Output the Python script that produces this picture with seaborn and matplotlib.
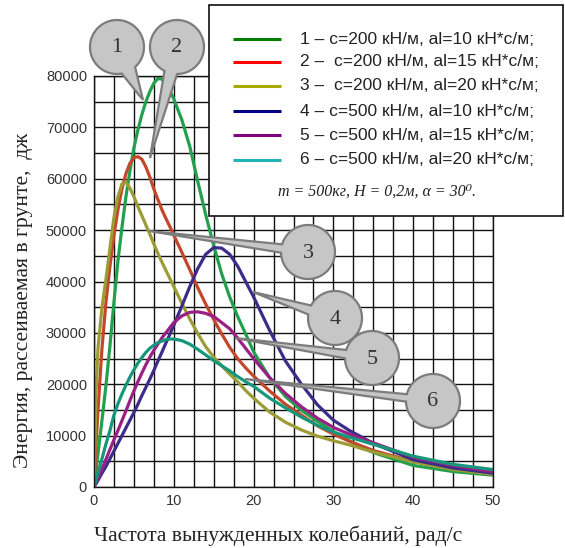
import numpy as np
import pandas as pd
import matplotlib
matplotlib.use("Agg")
import matplotlib.pyplot as plt
from matplotlib.patches import Polygon, Rectangle
import seaborn as sns

# ---------------- data ----------------
freq = [0, 0.25, 0.5, 1, 1.5, 2, 2.5, 3, 3.5, 4, 4.5, 5, 5.5, 6, 6.5, 7, 7.5, 8,
        8.5, 9, 9.5, 10, 11, 12, 13, 14, 15, 16, 17, 18, 19, 20, 22, 24, 26, 28,
        30, 32, 35, 40, 45, 50]

curve1 = [0, 3000, 6500, 13000, 19800, 27500, 36000, 44000, 50500, 56500, 61500,
          66000, 69500, 72500, 75000, 77000, 78600, 79500, 79400, 78500, 77200,
          75500, 71500, 66300, 59500, 53000, 47000, 41500, 37000, 33200, 29800,
          26300, 21300, 17600, 14900, 12800, 10800, 9000, 6700, 4200, 3000, 2300]
curve2 = [0, 8000, 15000, 27000, 36000, 43000, 49000, 54000, 58000, 61000, 63000,
          64100, 64300, 63800, 62300, 60300, 58000, 56000, 54000, 52300, 50700,
          49000, 45700, 42300, 38800, 35600, 32600, 29800, 27200, 25000, 23200,
          21600, 18700, 16100, 14000, 11900, 10300, 8900, 7100, 5000, 3500, 2500]
curve3 = [0, 18000, 27000, 35000, 40500, 46500, 52500, 56500, 59000, 59300, 58200,
          56500, 54600, 52800, 51000, 49200, 47300, 45500, 43800, 42200, 40600,
          39000, 35800, 32700, 29900, 27300, 25300, 23600, 22000, 20500, 18800,
          17300, 14600, 12600, 11100, 9900, 9000, 8200, 6800, 4900, 3400, 2500]
curve4 = [0, 650, 1300, 2700, 4000, 5500, 7000, 8500, 10000, 11500, 13000,
          14500, 16100, 17800, 19400, 21000, 22700, 24500, 26200, 28000, 29700,
          31500, 35200, 39000, 42500, 45300, 46600, 46500, 45300, 43000, 40000,
          37000, 30500, 24500, 20000, 16000, 13000, 11000, 8500, 5300, 3700, 2700]
curve5 = [0, 850, 1700, 3500, 5400, 7300, 9200, 11000, 12900, 14800, 16800,
          18700, 20500, 22200, 23800, 25300, 26600, 27800, 29000, 30000, 31000,
          32000, 33300, 34000, 34100, 33800, 33200, 32000, 30800, 29000, 27000,
          25000, 21300, 18200, 15600, 13400, 11600, 10300, 8600, 5800, 4200, 3000]
curve6 = [0, 1400, 2800, 5500, 8400, 11000, 14000, 16200, 18100, 19800, 21400,
          22800, 24100, 25200, 26200, 27000, 27600, 28100, 28400, 28700, 28800,
          28800, 28500, 27800, 26800, 25700, 24600, 23600, 22600, 21500, 20500,
          19600, 17300, 15400, 13600, 12000, 10700, 9700, 8300, 6000, 4400, 3400]

labels = ["1 – c=200 кН/м, al=10 кН*с/м;",
          "2 –  c=200 кН/м, al=15 кН*с/м;",
          "3 –  c=200 кН/м, al=20 кН*с/м;",
          "4 – c=500 кН/м, al=10 кН*с/м;",
          "5 – c=500 кН/м, al=15 кН*с/м;",
          "6 – c=500 кН/м, al=20 кН*с/м;"]
callout_names = ["1", "2", "3", "4", "5", "6"]
note = "m = 500кг, H = 0,2м, α = 30⁰."

x_ticks = [0, 10, 20, 30, 40, 50]
y_ticks = [0, 10000, 20000, 30000, 40000, 50000, 60000, 70000, 80000]

line_colors = ["#23a04e", "#c2472b", "#9c9c36", "#3d2b8a", "#9a2084", "#16977c"]
legend_colors = ["#008000", "#ff0000", "#a8a800", "#000080", "#800080", "#22b4b4"]

series = [curve1, curve2, curve3, curve4, curve5, curve6]
df = pd.concat([pd.DataFrame({"freq": freq, "energy": s, "curve": lab})
                for s, lab in zip(series, labels)], ignore_index=True)

# ---------------- figure ----------------
sns.set_style("white")
plt.rcParams["font.family"] = ["Liberation Sans", "DejaVu Sans"]

W, H = 565, 548
fig = plt.figure(figsize=(W / 100, H / 100), dpi=100)
ax = fig.add_axes([94 / W, 61 / H, 399 / W, 411 / H])

sns.lineplot(data=df, x="freq", y="energy", hue="curve", hue_order=labels,
             palette=line_colors, estimator=None, sort=False, lw=2.3,
             legend=False, ax=ax)

ax.set_xlim(0, 50)
ax.set_ylim(0, 80000)
ax.set_xticks(x_ticks)
ax.set_xticks(np.arange(0, 50.1, 2.5), minor=True)
ax.set_yticks(y_ticks)
ax.set_yticks(np.arange(0, 80001, 5000), minor=True)
ax.set_xticklabels([str(v) for v in x_ticks])
ax.set_yticklabels([str(v) for v in y_ticks])
ax.set_axisbelow(True)
ax.grid(which="both", color="#111111", lw=1.0)
ax.tick_params(axis="both", which="major", length=3.5, width=1, color="#111111",
               labelsize=10.5, labelcolor="#333333", pad=1.5)
ax.tick_params(axis="y", which="minor", length=3.5, width=1, color="#111111")
ax.tick_params(axis="x", which="minor", length=0)
for sp in ax.spines.values():
    sp.set_color("#111111")
    sp.set_linewidth(1.0)

serif = ["Liberation Serif", "DejaVu Serif"]
ax.set_xlabel("Частота вынужденных колебаний, рад/с", family=serif,
              fontsize=15.6, color="#222222")
ax.xaxis.set_label_coords((278 - 94) / 399, (487 - 526) / 411)
ax.set_ylabel("Энергия, рассеиваемая в грунте,  дж", family=serif,
              fontsize=15.6, color="#222222")
ax.yaxis.set_label_coords((33 - 94) / 399, (487 - 300) / 411)

# ---------------- overlay (pixel coordinates) ----------------
ov = fig.add_axes([0, 0, 1, 1], zorder=5)
ov.set_xlim(0, W)
ov.set_ylim(H, 0)
ov.axis("off")
ov.patch.set_alpha(0)

# legend box
ov.add_patch(Rectangle((209, 5), 354, 211, fc="white", ec="#111111", lw=1.2))
rows_y = [39, 62, 86, 111, 135, 160]
for lab, col, yy in zip(labels, legend_colors, rows_y):
    ov.plot([233, 281], [yy, yy], color=col, lw=2.2, solid_capstyle="butt")
    ov.text(300, yy, lab, va="center", ha="left", fontsize=12.5, color="#222222")
ov.text(377, 192, note, ha="center", va="center", family=serif, style="italic",
        fontsize=11.5, color="#222222")

# callouts
callouts = [
    (117, 47, 143, 100, 16),
    (177, 47, 150, 158, 14),
    (308, 252, 149, 231, 9),
    (335, 318, 253, 292, 10),
    (372, 358, 235, 338, 9),
    (433, 401, 245, 379, 8),
]
R = 27
for name, (cx, cy, tx, ty, d) in zip(callout_names, callouts):
    th0 = np.arctan2(ty - cy, tx - cx)
    dd = np.deg2rad(d)
    th = np.linspace(th0 + dd, th0 + 2 * np.pi - dd, 120)
    pts = np.column_stack([cx + R * np.cos(th), cy + R * np.sin(th)])
    pts = np.vstack([pts, [tx, ty]])
    ov.add_patch(Polygon(pts, closed=True, fc="#c6c6c6", ec="#7c7c7c", lw=1.6))
    ov.text(cx, cy + 1, name, ha="center", va="center", family=serif,
            fontsize=16, color="#333333")

fig.savefig("out.png", dpi=100)
